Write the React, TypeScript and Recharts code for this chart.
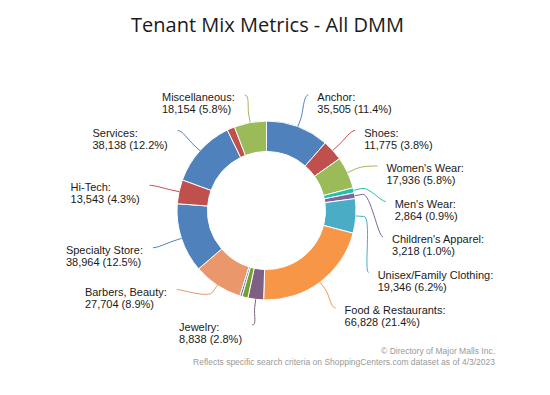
import { PieChart, Pie, Cell } from 'recharts';

// slices clockwise from 12 o'clock
const names = [
  'Anchor', 'Shoes', "Women's Wear", "Men's Wear", "Children's Apparel",
  'Unisex/Family Clothing', 'Food & Restaurants', 'Jewelry', 'Other 1', 'Other 2',
  'Barbers, Beauty', 'Specialty Store', 'Hi-Tech', 'Services', 'Other 3', 'Miscellaneous',
];
const values = [
  35505, 11775, 17936, 2864, 3218,
  19346, 66828, 8838, 3350, 1250,
  27704, 38964, 13543, 38138, 4337, 18154,
];
const colors = [
  '#4f81bd', '#c0504d', '#9bbb59', '#23bfaa', '#8064a2',
  '#4bacc6', '#f79646', '#7f6084', '#77a033', '#4f81bd',
  '#e9976b', '#4f81bd', '#c0504d', '#4f81bd', '#c0504d', '#9bbb59',
];
// slices whose labels were dropped for lack of room
const unlabeled = ['Other 1', 'Other 2', 'Other 3'];

const W = 550;
const H = 395;
const CX = 266.5;
const CY = 210.5;
const R_OUT = 89.5;
const R_IN = 59;
const DIST = 30;
const BOX_H = 35.5;
const TOP = -115.5;
const BOTTOM = 114.5;
const LABEL_FONT = '11px "Liberation Sans", Arial, sans-serif';

const data = names.map((name, i) => ({ name, value: values[i] }));
const total = values.reduce((a, b) => a + b, 0);

const fmt = (n: number) => n.toLocaleString('en-US');

let ctx: CanvasRenderingContext2D | null = null;
const measure = (s: string) => {
  if (!ctx) ctx = document.createElement('canvas').getContext('2d');
  if (!ctx) return s.length * 5.5;
  ctx.font = LABEL_FONT;
  return ctx.measureText(s).width;
};

type Item = { i: number; target: number };
type Placed = { y: number; natural: number; edge: boolean };

// highcharts-like distribution: overlapping boxes merge, groups centre on mean target
function distribute(items: Item[]) {
  items.sort((a, b) => a.target - b.target);
  let groups = items.map((it) => ({ members: [it], pos: it.target }));
  const place = (g: { members: Item[]; pos: number }) => {
    const n = g.members.length;
    const mean = g.members.reduce((s, m) => s + m.target, 0) / n;
    let pos = mean - ((n - 1) * BOX_H) / 2;
    if (pos + (n - 1) * BOX_H > BOTTOM) pos = BOTTOM - (n - 1) * BOX_H;
    if (pos < TOP) pos = TOP;
    g.pos = pos;
  };
  groups.forEach(place);
  let changed = true;
  while (changed) {
    changed = false;
    for (let k = 0; k < groups.length - 1; k++) {
      const a = groups[k];
      const b = groups[k + 1];
      if (a.pos + a.members.length * BOX_H > b.pos + 0.01) {
        const merged = { members: [...a.members, ...b.members], pos: 0 };
        place(merged);
        groups = [...groups.slice(0, k), merged, ...groups.slice(k + 2)];
        changed = true;
        break;
      }
    }
  }
  const out: Record<number, Placed> = {};
  groups.forEach((g) => g.members.forEach((m, j) => {
    const y = g.pos + j * BOX_H;
    out[m.i] = { y, natural: m.target, edge: y <= TOP + 1 || y >= BOTTOM - 1 };
  }));
  return out;
}

const R_LABEL = R_OUT + DIST;
const layout: Record<number, Placed> = (() => {
  let cum = 0;
  const right: Item[] = [];
  const left: Item[] = [];
  values.forEach((v, i) => {
    const a = ((cum + v / 2) / total) * 2 * Math.PI;
    cum += v;
    if (unlabeled.includes(names[i])) return;
    const item = { i, target: -R_LABEL * Math.cos(a) };
    if (a < Math.PI) right.push(item);
    else left.push(item);
  });
  return { ...distribute(right), ...distribute(left) };
})();

const renderLabel = (props: any) => {
  const { cx, cy, midAngle, outerRadius, index, name, value } = props;
  const pos = layout[index];
  if (!pos) return null;
  const rad = (midAngle * Math.PI) / 180;
  const cos = Math.cos(rad);
  const sin = Math.sin(rad);
  const isRight = cos >= 0;
  const tx = cx + outerRadius * cos;
  const ty = cy - outerRadius * sin;
  const bx = cx + (outerRadius + 8) * cos;
  const by = cy - (outerRadius + 8) * sin;
  const rl = outerRadius + DIST;
  // labels pushed against the top/bottom keep their natural x
  const yForX = pos.edge ? pos.natural : pos.y;
  const dx = Math.sqrt(Math.max(0, rl * rl - yForX * yForX));
  const lx = cx + (isRight ? dx : -dx);
  const ly = cy + pos.y;
  const path = `M ${lx} ${ly} C ${lx + (isRight ? -5 : 5)} ${ly} ${2 * bx - tx} ${2 * by - ty} ${bx} ${by} L ${tx} ${ty}`;
  const line1 = `${name}:`;
  const line2 = `${fmt(value)} (${((value / total) * 100).toFixed(1)}%)`;
  const boxW = Math.max(measure(line1), measure(line2));
  const textX = isRight ? lx + 9 : lx - 10 - boxW;
  return (
    <g key={`lbl-${index}`}>
      <path d={path} fill="none" stroke={colors[index]} strokeWidth={1} />
      <text x={textX} y={ly + 6} fill="#1a1a1a" style={{ font: LABEL_FONT }}>
        {line1}
      </text>
      <text x={textX} y={ly + 18} fill="#1a1a1a" style={{ font: LABEL_FONT }}>
        {line2}
      </text>
    </g>
  );
};

const App = () => (
  <div style={{ position: 'absolute', left: 0, top: 0, width: W, height: H, background: '#fff' }}>
    <PieChart width={W} height={H} margin={{ top: 0, right: 0, bottom: 0, left: 0 }}>
      <Pie
        data={data}
        dataKey="value"
        nameKey="name"
        cx={CX}
        cy={CY}
        innerRadius={R_IN}
        outerRadius={R_OUT}
        startAngle={90}
        endAngle={-270}
        stroke="#fff"
        strokeWidth={1}
        label={renderLabel}
        labelLine={false}
        isAnimationActive={false}
      >
        {data.map((d, i) => (
          <Cell key={d.name} fill={colors[i]} />
        ))}
      </Pie>
    </PieChart>
    <svg width={W} height={H} style={{ position: 'absolute', left: 0, top: 0, pointerEvents: 'none' }}>
      <text x={267.5} y={32} textAnchor="middle" fill="#1a1a1a"
        style={{ font: '20px "Open Sans", sans-serif' }}>
        Tenant Mix Metrics - All DMM
      </text>
      <text x={495} y={354} textAnchor="end" fill="#999"
        style={{ font: '8.5px "Liberation Sans", Arial, sans-serif' }}>
        © Directory of Major Malls Inc.
      </text>
      <text x={495} y={365} textAnchor="end" fill="#999"
        style={{ font: '8.5px "Liberation Sans", Arial, sans-serif' }}>
        Reflects specific search criteria on ShoppingCenters.com dataset as of 4/3/2023
      </text>
    </svg>
  </div>
);

export default App;
